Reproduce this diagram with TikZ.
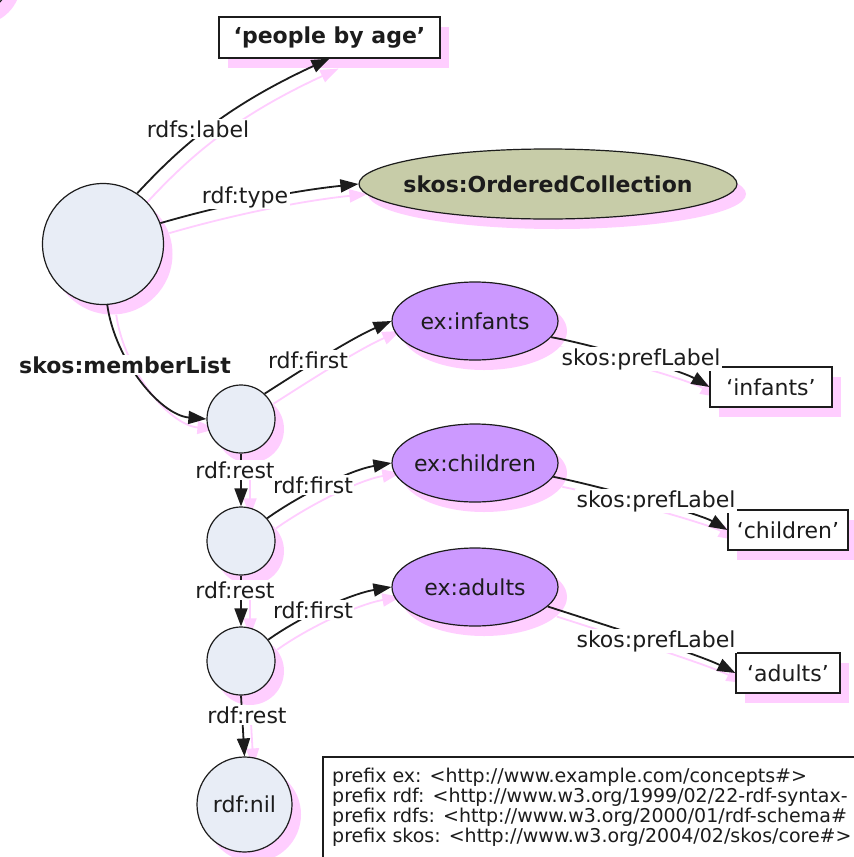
\documentclass[tikz,border=0pt]{standalone}
\usepackage{fontspec}
\setmainfont{DejaVu Sans}
\usetikzlibrary{arrows.meta,shapes.geometric,shadows}
\pgfdeclarelayer{bglayer}
\pgfdeclarelayer{shadowlayer}
\pgfsetlayers{bglayer,shadowlayer,main}
\definecolor{shpink}{RGB}{255,206,255}
\definecolor{circfill}{RGB}{232,237,246}
\definecolor{ocfill}{RGB}{199,204,168}
\definecolor{purp}{RGB}{204,153,255}
\definecolor{ink}{RGB}{28,28,28}
\tikzset{
  nodeshadow/.style={drop shadow={shadow xshift=9pt,shadow yshift=-10pt,fill=shpink,opacity=1}},
  res/.style={circle,draw=ink,line width=1.2pt,fill=circfill,inner sep=0pt,nodeshadow,text=ink},
  concept/.style={ellipse,draw=ink,line width=1.2pt,fill=purp,inner sep=0pt,
    minimum width=166pt,minimum height=78pt,nodeshadow,
    label={[text=ink]center:{#1}}},
  classnode/.style={ellipse,draw=ink,line width=1.2pt,fill=ocfill,inner sep=0pt,
    minimum width=378pt,minimum height=70pt,nodeshadow,
    label={[text=ink,font=\fontsize{22}{26}\selectfont\bfseries]center:{#1}}},
  lit/.style={rectangle,draw=ink,line width=1.2pt,fill=white,inner sep=0pt,
    minimum height=40pt,nodeshadow,text=ink},
  lbl/.style={fill=white,inner sep=1.5pt,anchor=base,text=ink},
  prefixline/.style={anchor=base west,inner sep=0pt,text=ink,font=\fontsize{19}{20}\selectfont},
  edge/.style={draw=ink,line width=1.8pt,-{Triangle[length=18pt,width=13pt]}},
  shedge/.style={draw=shpink,line width=1.8pt,-{Triangle[length=18pt,width=13pt]}},
}
\newcommand\rdfedge[1]{%
  \begin{pgfonlayer}{shadowlayer}
    \draw[shedge,transform canvas={shift={(9pt,-10pt)}}] #1;
  \end{pgfonlayer}
  \draw[edge] #1;}
\begin{document}
\begin{tikzpicture}[x=1pt,y=-1pt,font=\fontsize{22}{26}\selectfont]
\begin{pgfonlayer}{bglayer}
  \fill[white] (0,0) rectangle (854,857);
\end{pgfonlayer}
\useasboundingbox (0,0) rectangle (854,857);

% partial resource at top-left corner
\begin{scope}
  \clip (0,0) rectangle (854,857);
  \node[res,minimum size=86pt] (prev) at (-31,-28) {};
\end{scope}

% nodes
\node[res,minimum size=121pt] (coll) at (103,244) {};
\node[lit,minimum width=221pt,minimum height=41pt,font=\fontsize{22}{26}\selectfont\bfseries] (plabel) at (329.5,37.5) {‘people by age’};
\node[classnode=skos:OrderedCollection] (oc) at (548,184) {};
\node[concept=ex:infants] (infants) at (475,321) {};
\node[concept=ex:children] (children) at (475,463) {};
\node[concept=ex:adults] (adults) at (475,587) {};
\node[lit,minimum width=122pt] (linf) at (771,387) {‘infants’};
\node[lit,minimum width=120pt] (lchi) at (788,530) {‘children’};
\node[lit,minimum width=104pt] (ladu) at (788,673) {‘adults’};
\node[res,minimum size=68pt] (l1) at (241,419) {};
\node[res,minimum size=68pt] (l2) at (241,541) {};
\node[res,minimum size=68pt] (l3) at (241,661) {};
\node[res,minimum size=95pt] (nil) at (244.5,804.5) {rdf:nil};

% edges
\rdfedge{(coll.56) .. controls (182,145) and (227,106) .. (plabel.south)}
\rdfedge{(coll.20) .. controls (223,205) and (291,191) .. (oc.west)}
\rdfedge{(coll.274) .. controls (115,360) and (160,415) .. (l1.west)}
\rdfedge{(l1.47) .. controls (300,371) and (350,339) .. (infants.west)}
\rdfedge{(l2.41) .. controls (300,495) and (350,470) .. (children.west)}
\rdfedge{(l3.38) .. controls (300,617) and (350,594) .. (adults.west)}
\rdfedge{(l1.south) -- (l2.north)}
\rdfedge{(l2.south) -- (l3.north)}
\rdfedge{(l3.south) -- (nil.north)}
\rdfedge{(infants.-12) .. controls (590,344) and (680,370) .. (linf.west)}
\rdfedge{(children.-10) .. controls (600,486) and (700,514) .. (lchi.west)}
\rdfedge{(adults.-15) .. controls (605,625) and (700,655) .. (ladu.west)}

% edge labels
\node[lbl] (t1) at (198,137) {rdfs:label};
\node[lbl] (t2) at (245,203) {rdf:type};
\node[lbl,font=\fontsize{22}{26}\selectfont\bfseries] (t3) at (125,373) {skos:memberList};
\node[lbl] (t4) at (308,368) {rdf:first};
\node[lbl] (t5) at (235,478) {rdf:rest};
\node[lbl] (t6) at (313,493) {rdf:first};
\node[lbl] (t7) at (235,598) {rdf:rest};
\node[lbl] (t8) at (313,618) {rdf:first};
\node[lbl] (t9) at (247,723) {rdf:rest};
\node[lbl] (t10) at (641,365) {skos:prefLabel};
\node[lbl] (t11) at (656,507) {skos:prefLabel};
\node[lbl] (t12) at (656,647) {skos:prefLabel};

% prefix box
\begin{scope}
  \clip (0,0) rectangle (854,857);
  \draw[draw=ink,line width=1.2pt] (900,757) -- (323,757) -- (323,900);
  \node[prefixline] (p1) at (332,782) {prefix ex: <http://www.example.com/concepts\#>};
  \node[prefixline] (p2) at (332,802) {prefix rdf: <http://www.w3.org/1999/02/22-rdf-syntax-};
  \node[prefixline] (p3) at (332,822) {prefix rdfs: <http://www.w3.org/2000/01/rdf-schema\#};
  \node[prefixline] (p4) at (332,842) {prefix skos: <http://www.w3.org/2004/02/skos/core\#>};
\end{scope}
\end{tikzpicture}
\end{document}
